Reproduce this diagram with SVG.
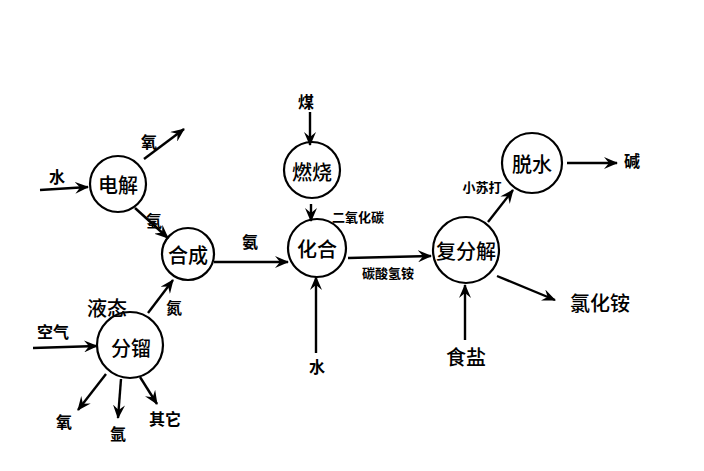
<svg xmlns="http://www.w3.org/2000/svg" width="704" height="471" viewBox="0 0 704 471">
<style>
.n{fill:none;stroke:#000;stroke-width:2.2}
.e{fill:none;stroke:#000;stroke-width:2.4;marker-end:url(#ah)}
text{font-family:"Noto Sans CJK SC","Noto Sans",sans-serif;fill:#000;text-anchor:middle;dominant-baseline:central}
.big{font-size:20px;font-weight:500}
.lab{font-size:16px;font-weight:bold}
.sm{font-size:13px;font-weight:bold}
</style>
<defs>
<marker id="ah" markerWidth="14" markerHeight="12" refX="13" refY="6" orient="auto" markerUnits="userSpaceOnUse">
<path d="M0,0 L14,6 L0,12 L5,6 Z" fill="#000"/>
</marker>
</defs>
<rect width="704" height="471" fill="#fff"/>
<g id="connectors">
<line class="e" x1="40" y1="190" x2="88" y2="187"/>
<line class="e" x1="144" y1="159" x2="184" y2="129"/>
<line class="e" x1="135" y1="208" x2="168" y2="238"/>
<line class="e" x1="214" y1="262" x2="288" y2="262"/>
<line class="e" x1="148" y1="313" x2="173" y2="280"/>
<line class="e" x1="33" y1="348" x2="97" y2="346"/>
<line class="e" x1="106" y1="374" x2="78" y2="410"/>
<line class="e" x1="121" y1="379" x2="118" y2="418"/>
<line class="e" x1="140" y1="377" x2="157" y2="404"/>
<line class="e" x1="310" y1="112" x2="310" y2="145"/>
<line class="e" x1="311" y1="204" x2="311" y2="221"/>
<line class="e" x1="316" y1="353" x2="316" y2="277"/>
<line class="e" x1="348" y1="258" x2="431" y2="256"/>
<line class="e" x1="488" y1="222" x2="513" y2="190"/>
<line class="e" x1="567" y1="163" x2="617" y2="163"/>
<line class="e" x1="497" y1="276" x2="555" y2="300"/>
<line class="e" x1="465" y1="340" x2="465" y2="285"/>
</g>
<g id="dianjie"><circle class="n" cx="118" cy="184" r="28"/><text class="big" x="118" y="184">电解</text></g>
<g id="hecheng"><circle class="n" cx="188" cy="254" r="26"/><text class="big" x="188" y="254">合成</text></g>
<g id="fenliu"><circle class="n" cx="130" cy="345" r="33"/><text class="big" x="131" y="347">分镏</text><text class="big" x="107" y="307">液态</text></g>
<g id="ranshao"><circle class="n" cx="312" cy="170" r="28"/><text class="big" x="312" y="171">燃烧</text></g>
<g id="huahe"><circle class="n" cx="317" cy="248" r="29"/><text class="big" x="317" y="248">化合</text></g>
<g id="fufenjie"><circle class="n" cx="466" cy="250" r="33"/><text class="big" x="466" y="250">复分解</text></g>
<g id="tuoshui"><circle class="n" cx="532" cy="163" r="30"/><text class="big" x="532" y="163">脱水</text></g>
<g id="labels">
<text class="lab" x="57" y="176">水</text>
<text class="lab" x="149" y="141">氧</text>
<text class="lab" x="154" y="220">氢</text>
<text class="lab" x="250" y="241">氨</text>
<text class="lab" x="174" y="307">氮</text>
<text class="lab" x="53" y="331">空气</text>
<text class="lab" x="64" y="421">氧</text>
<text class="lab" x="118" y="433">氩</text>
<text class="lab" x="165" y="418">其它</text>
<text class="lab" x="306" y="101">煤</text>
<text class="sm" x="358" y="216">二氧化碳</text>
<text class="lab" x="317" y="366">水</text>
<text class="sm" x="388" y="272">碳酸氢铵</text>
<text class="sm" x="482" y="186">小苏打</text>
<text class="lab" x="632" y="160">碱</text>
<text class="big" x="600" y="302" font-weight="bold">氯化铵</text>
<text class="big" x="466" y="356" font-weight="bold">食盐</text>
</g>
</svg>
